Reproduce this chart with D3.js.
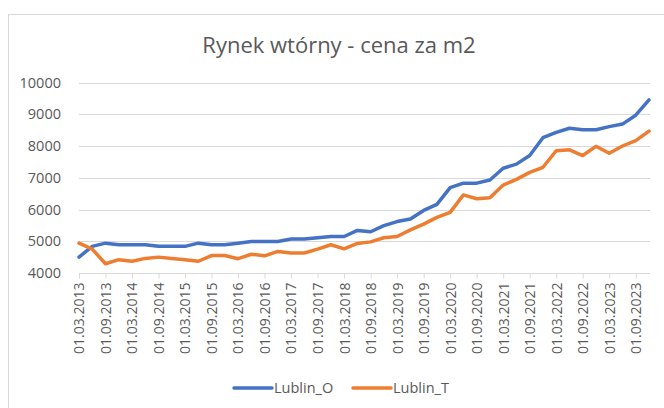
<!DOCTYPE html>
<html>
<head>
<meta charset="utf-8">
<script src="https://cdn.jsdelivr.net/npm/d3@7"></script>
<style>
  body { margin: 0; background: #fff; }
  text { font-family: "Open Sans", "Liberation Sans", sans-serif; }
</style>
</head>
<body>
<div id="chart"></div>
<script>
var width = 664,
    height = 408;

// quarterly dates, 01.03.2013 .. 01.12.2023
var dates = [];
for (var yr = 2013; yr <= 2023; yr++) {
  ["03", "06", "09", "12"].forEach(function(m) { dates.push("01." + m + "." + yr); });
}

var lublinO = [4500, 4840, 4940, 4890, 4890, 4890, 4840, 4840, 4840, 4940,
               4890, 4890, 4940, 4990, 4990, 4990, 5070, 5070, 5110, 5150,
               5150, 5340, 5300, 5490, 5620, 5700, 5970, 6160, 6690, 6830,
               6830, 6930, 7300, 7430, 7700, 8260, 8430, 8560, 8510, 8510,
               8610, 8690, 8970, 9450];

var lublinT = [4940, 4750, 4290, 4420, 4370, 4460, 4500, 4460, 4420, 4370,
               4550, 4550, 4450, 4590, 4540, 4680, 4630, 4630, 4750, 4890,
               4760, 4930, 4980, 5110, 5150, 5360, 5540, 5750, 5910, 6460,
               6340, 6370, 6770, 6950, 7170, 7330, 7850, 7880, 7700, 7990,
               7770, 8000, 8170, 8470];

var yTicks = [4000, 5000, 6000, 7000, 8000, 9000, 10000];

var series = [
  { name: "Lublin_O", values: lublinO, color: "#4472C4" },
  { name: "Lublin_T", values: lublinT, color: "#ED7D31" }
];

var svg = d3.select("#chart").append("svg")
    .attr("width", width)
    .attr("height", height);

// chart frame
svg.append("rect")
    .attr("x", 8.5).attr("y", 14.5)
    .attr("width", 700).attr("height", 450)
    .attr("fill", "none")
    .attr("stroke", "#d9d9d9")
    .attr("stroke-width", 1);

var x = d3.scalePoint()
    .domain(dates)
    .range([79, 649]);

var y = d3.scaleLinear()
    .domain([4000, 10000])
    .range([273, 82.5]);

// gridlines
svg.append("g").selectAll("line")
    .data(yTicks.slice(1))
  .enter().append("line")
    .attr("x1", 79).attr("x2", 650)
    .attr("y1", function(d) { return Math.round(y(d)) + 0.5; })
    .attr("y2", function(d) { return Math.round(y(d)) + 0.5; })
    .attr("stroke", "#d9d9d9")
    .attr("stroke-width", 1);

// y axis labels
var yAxis = d3.axisLeft(y).tickValues(yTicks).tickFormat(d3.format("d")).tickSize(0).tickPadding(18);
var gy = svg.append("g").attr("transform", "translate(79,0)").call(yAxis);
gy.select(".domain").remove();
gy.selectAll("text")
    .attr("fill", "#595959")
    .style("font-size", "14.5px");

// x axis
var xAxis = d3.axisBottom(x)
    .tickValues(dates.filter(function(d, i) { return i % 2 == 0; }))
    .tickSize(5)
    .tickSizeOuter(0);
var gx = svg.append("g").attr("transform", "translate(0," + (Math.round(y(4000)) + 0.5) + ")").call(xAxis);
gx.select(".domain").attr("stroke", "#d9d9d9").attr("d", "M79,0H650");
gx.selectAll(".tick line").attr("stroke", "#d9d9d9");
gx.selectAll("text")
    .attr("fill", "#595959")
    .style("font-size", "14px")
    .attr("text-anchor", "end")
    .attr("transform", "rotate(-90)")
    .attr("x", -9)
    .attr("y", 0)
    .attr("dy", "0.35em");

// lines
var line = d3.line()
    .x(function(d, i) { return x(dates[i]); })
    .y(function(d) { return y(d); });

svg.append("g").selectAll("path")
    .data(series)
  .enter().append("path")
    .attr("d", function(s) { return line(s.values); })
    .attr("fill", "none")
    .attr("stroke", function(s) { return s.color; })
    .attr("stroke-width", 3.5)
    .attr("stroke-linejoin", "round")
    .attr("stroke-linecap", "round");

// title
svg.append("text")
    .attr("x", 339)
    .attr("y", 53)
    .attr("text-anchor", "middle")
    .attr("fill", "#595959")
    .style("font-size", "22px")
    .text("Rynek wtórny - cena za m2");

// legend
var legend = svg.append("g").selectAll("g")
    .data(series)
  .enter().append("g")
    .attr("transform", function(d, i) { return "translate(" + (234 + i * 119) + ",388)"; });

legend.append("line")
    .attr("x1", 0).attr("x2", 38)
    .attr("stroke", function(d) { return d.color; })
    .attr("stroke-width", 3.5)
    .attr("stroke-linecap", "round");

legend.append("text")
    .attr("x", 40)
    .attr("dy", "0.35em")
    .attr("fill", "#595959")
    .style("font-size", "14.5px")
    .text(function(d) { return d.name; });
</script>
</body>
</html>
